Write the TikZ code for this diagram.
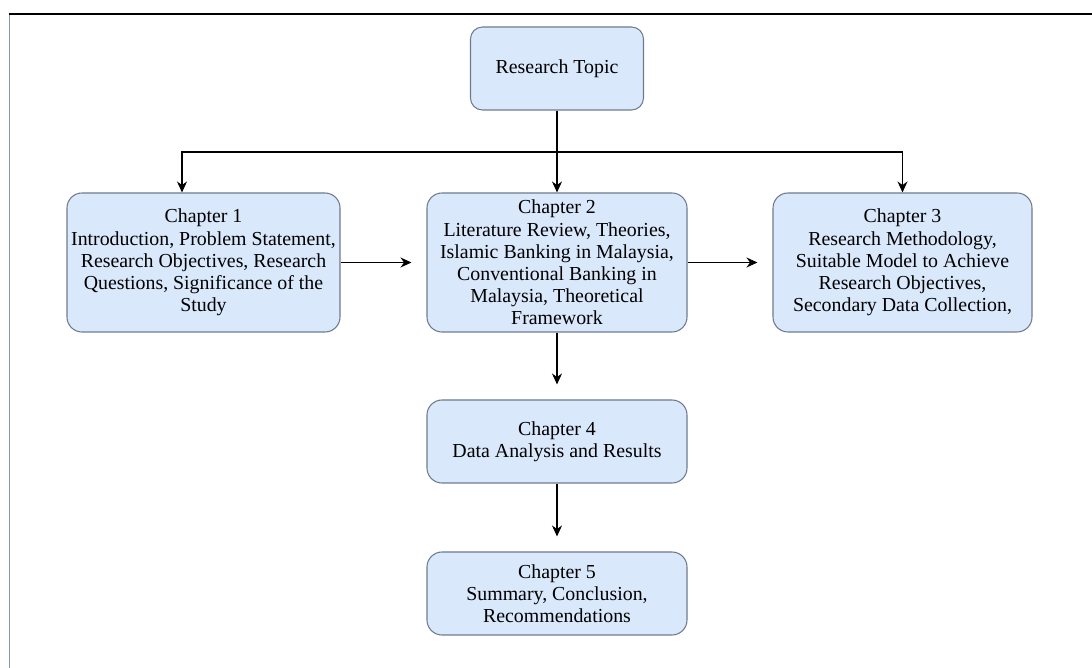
\documentclass[tikz,border=0pt]{standalone}
\usepackage{fontspec}
\setmainfont{Liberation Serif}
\usepackage{xcolor}
\usetikzlibrary{arrows.meta}
\definecolor{boxfill}{HTML}{DAE8FC}
\definecolor{boxline}{HTML}{6D7B8D}
\definecolor{frameline}{HTML}{8C96A3}
\tikzset{
  chap/.style={draw=boxline, fill=boxfill, rounded corners=0.3cm, line width=0.6pt,
    align=center, inner sep=2pt, font=\fontsize{11.3}{12.6}\selectfont},
  link/.style={draw=black, line width=0.7pt, -{Stealth[length=0.22cm,width=0.2cm]}},
  every node/.style={text=black}
}

\begin{document}
\begin{tikzpicture}
  \useasboundingbox (0,0) rectangle (21.84,13.36);
  % page frame
  \draw[frameline, line width=0.6pt] (0.19,13.08) -- (0.19,0);
  \draw[black, line width=0.8pt] (0.18,13.08) -- (21.84,13.08);

  \node[chap, minimum width=3.46cm, minimum height=1.66cm, rounded corners=0.24cm] (topic) at (11.14,11.99) {Research Topic};

  \node[chap, minimum width=5.46cm, minimum height=2.78cm] (ch1) at (4.07,8.11)
    {Chapter 1\\Introduction, Problem Statement,\\Research Objectives, Research\\Questions, Significance of the\\Study};
  \node[chap, minimum width=5.2cm, minimum height=2.78cm] (ch2) at (11.14,8.11)
    {Chapter 2\\Literature Review, Theories,\\Islamic Banking in Malaysia,\\Conventional Banking in\\Malaysia, Theoretical\\Framework};
  \node[chap, minimum width=5.18cm, minimum height=2.78cm] (ch3) at (18.05,8.11)
    {Chapter 3\\Research Methodology,\\Suitable Model to Achieve\\Research Objectives,\\Secondary Data Collection,};
  \node[chap, minimum width=5.2cm, minimum height=1.66cm] (ch4) at (11.14,4.53)
    {Chapter 4\\Data Analysis and Results};
  \node[chap, minimum width=5.2cm, minimum height=1.66cm] (ch5) at (11.14,1.49)
    {Chapter 5\\Summary, Conclusion,\\Recommendations};

  % connectors
  \coordinate (fork) at (11.14,10.32);
  \draw[link] (topic) -- (ch2);
  \draw[link] (fork) -| ([xshift=-0.43cm]ch1.north);
  \draw[link] (fork) -| (ch3.north);
  \draw[link, shorten >=0.3cm] (ch1) -- (ch2);
  \draw[link, shorten >=0.3cm] (ch2) -- (ch3);
  \draw[link, shorten >=0.3cm] (ch2) -- (ch4);
  \draw[link, shorten >=0.3cm] (ch4) -- (ch5);
\end{tikzpicture}
\end{document}
